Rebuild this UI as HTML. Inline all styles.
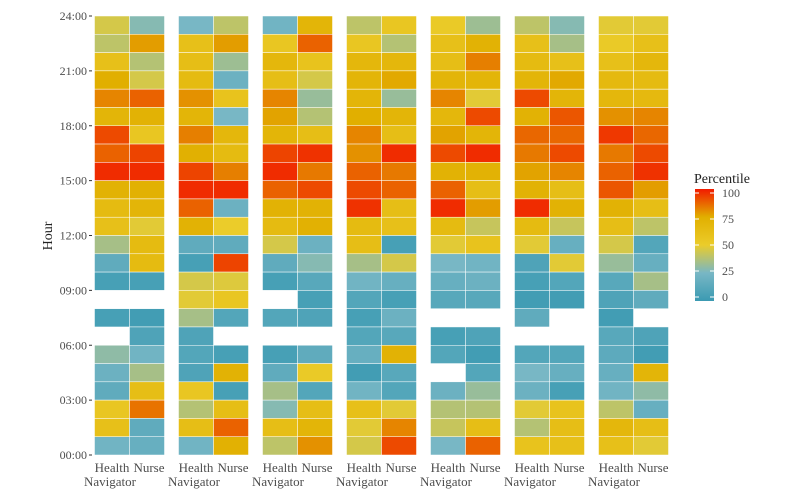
<!DOCTYPE html>
<html><head><meta charset="utf-8"><style>
body{margin:0;background:#fff;}
svg{display:block;font-family:"Liberation Serif",serif;}
</style></head><body>
<svg id="chart" width="800" height="494" viewBox="0 0 800 494">
<defs><linearGradient id="lg" x1="0" y1="1" x2="0" y2="0">
<stop offset="0" stop-color="#3B9AB2"/><stop offset="0.25" stop-color="#78B7C5"/><stop offset="0.5" stop-color="#EBCC2A"/><stop offset="0.75" stop-color="#E1AF00"/><stop offset="1" stop-color="#F21A00"/></linearGradient></defs>
<g id="axes"></g><g id="cells"></g>
<g>
<text x="694" y="183" font-size="14" fill="#222">Percentile</text>
<rect x="695" y="189" width="19" height="112" fill="url(#lg)"/>
</g>
<text transform="translate(52,236) rotate(-90)" text-anchor="middle" font-size="14" fill="#222">Hour</text>
</svg>
<script>
// rows listed from hour 23 (top) down to hour 0; null = missing
const columns = ["Health Navigator","Nurse"];
const yTicks = ["00:00","03:00","06:00","09:00","12:00","15:00","18:00","21:00","24:00"];
const legendTicks = [0,25,50,75,100];
const f1HN=[45,40,60,75,82,70,92,88,97,72,65,60,35,15,5,null,5,null,30,20,15,55,60,22];
const f1NU=[28,78,38,45,88,72,55,93,97,73,70,48,65,65,5,null,3,8,22,35,62,85,15,18];
const f2HN=[25,60,62,65,80,70,83,74,93,97,88,72,15,5,45,48,35,8,10,8,55,38,62,22];
const f2NU=[40,78,33,20,58,25,68,65,83,97,20,50,15,93,47,55,10,null,5,72,5,62,88,73];
const f3HN=[22,55,68,62,82,77,70,93,97,88,72,65,45,15,5,null,10,null,5,15,35,28,62,40];
const f3NU=[70,88,58,45,32,38,62,96,84,92,72,73,20,28,12,5,8,null,15,52,10,62,70,80];
const f4HN=[40,55,68,70,70,75,82,80,88,92,96,65,62,35,22,10,5,10,18,3,22,60,48,45];
const f4NU=[55,38,68,76,32,70,62,97,84,88,62,60,5,45,18,5,20,12,72,12,10,48,82,92];
const f5HN=[52,60,62,70,82,68,77,92,72,88,97,65,48,25,18,12,null,5,10,null,20,38,42,25];
const f5NU=[33,72,83,70,48,92,70,97,72,62,78,42,58,22,20,12,null,8,3,10,32,38,62,88];
const f6HN=[40,60,65,70,92,72,87,84,77,72,97,65,48,8,5,3,15,null,10,25,20,48,38,58];
const f6NU=[28,35,60,76,70,90,87,92,82,62,72,42,18,48,10,3,null,null,10,18,5,58,62,60];
const f7HN=[48,52,60,66,68,80,95,84,88,90,72,62,45,32,12,8,3,12,14,18,22,40,68,60];
const f7NU=[48,60,68,65,66,82,87,92,96,78,62,40,10,18,35,15,null,8,3,70,30,18,62,48];
const facets=[[f1HN,f1NU],[f2HN,f2NU],[f3HN,f3NU],[f4HN,f4NU],[f5HN,f5NU],[f6HN,f6NU],[f7HN,f7NU]];

const NS="http://www.w3.org/2000/svg";
const Y0=455,Y1=16;
function yScale(h){return Y0-(Y0-Y1)*h/24;}
function xScale(facet,col){return 94.5+facet*84+col*35;}
function lgY(v){return 297-(297-193)*v/100;}
const stops=[[0,[59,154,178]],[25,[120,183,197]],[50,[235,204,42]],[75,[225,175,0]],[100,[242,26,0]]];
function color(v){for(let i=0;i<4;i++){const a=stops[i],b=stops[i+1];if(v<=b[0]){const t=(v-a[0])/(b[0]-a[0]);return "rgb("+a[1].map((c,k)=>Math.round(c+(b[1][k]-c)*t)).join(",")+")";}}return "rgb(242,26,0)";}
function mk(tag,attrs,parent){const e=document.createElementNS(NS,tag);for(const k in attrs)e.setAttribute(k,attrs[k]);parent.appendChild(e);return e;}
const cells=document.getElementById("cells"),axes=document.getElementById("axes"),svg=document.getElementById("chart");
facets.forEach((cols,fi)=>{cols.forEach((vals,ci)=>{vals.forEach((v,i)=>{if(v===null)return;const h=23-i;
const r=mk("rect",{x:xScale(fi,ci),y:yScale(h+1),width:35,height:yScale(h)-yScale(h+1),fill:color(v),stroke:"#fff","stroke-width":0.5},cells);

});
const cx=xScale(fi,ci)+17.5;
if(ci===0){const t=mk("text",{x:cx,y:472,"text-anchor":"middle","font-size":13,fill:"#4d4d4d"},axes);t.textContent="Health";

const t2=mk("text",{x:cx-2,y:486,"text-anchor":"middle","font-size":13,fill:"#4d4d4d"},axes);t2.textContent="Navigator";
}
else{const t=mk("text",{x:cx+2,y:472,"text-anchor":"middle","font-size":13,fill:"#4d4d4d"},axes);t.textContent="Nurse";
}
});});
yTicks.forEach((lab,i)=>{const y=yScale(i*3);
const t=mk("text",{x:87,y:y+4,"text-anchor":"end","font-size":12,fill:"#4d4d4d"},axes);t.textContent=lab;

const l=mk("line",{x1:89,x2:92,y1:y,y2:y,stroke:"#333","stroke-width":1},axes);
});
legendTicks.forEach(v=>{const y=lgY(v);
const l=mk("line",{x1:695,x2:699,y1:y,y2:y,stroke:"#fff","stroke-width":1},svg);

const l2=mk("line",{x1:710,x2:714,y1:y,y2:y,stroke:"#fff","stroke-width":1},svg);

const t=mk("text",{x:722,y:y+4,"font-size":12,fill:"#4d4d4d"},svg);t.textContent=v;
});
</script>
</body></html>
